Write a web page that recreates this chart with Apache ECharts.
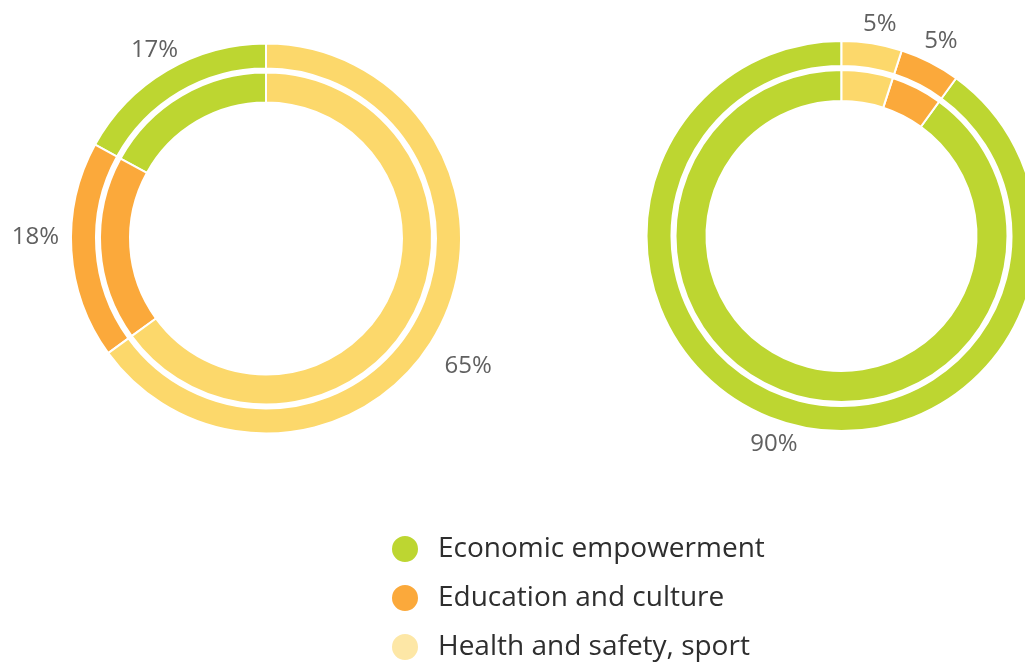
<!DOCTYPE html>
<html>
<head>
<meta charset="utf-8">
<script src="https://cdn.jsdelivr.net/npm/echarts@6/dist/echarts.min.js"></script>
<style>
  html, body { margin: 0; padding: 0; background: #ffffff; }
  #chart { width: 1025px; height: 664px; }
</style>
</head>
<body>
<div id="chart"></div>
<script>
// Funding areas and their shares (%) for the two periods
const categories = ['Economic empowerment', 'Education and culture', 'Health and safety, sport'];
const leftShares = [17, 18, 65];
const rightShares = [90, 5, 5];

const sliceColors = ['#bdd631', '#fba93b', '#fcd86b'];
const legendColors = ['#bdd631', '#fba93b', '#fde7a6'];

// small nudges for a couple of outer labels, per series / data index
const labelNudge = {
  0: { 1: [-12, -15], 2: [7, 28] },
  2: { 2: [4, 4] }
};

function toData(values) {
  return categories.map((name, i) => ({
    name: name,
    value: values[i],
    itemStyle: { color: sliceColors[i] }
  }));
}

function ring(center, radius, values, withLabels, seriesIndex) {
  return {
    type: 'pie',
    center: center,
    radius: radius,
    startAngle: 90,
    clockwise: false,
    avoidLabelOverlap: false,
    silent: true,
    itemStyle: { borderColor: '#ffffff', borderWidth: 2 },
    label: withLabels ? {
      show: true,
      position: 'outside',
      formatter: '{c}%',
      fontFamily: 'Open Sans',
      fontSize: 24,
      color: '#606060',
      distanceToLabelLine: 0
    } : { show: false },
    labelLine: { show: false, length: 24, length2: 0 },
    labelLayout: withLabels ? function (p) {
      const n = (labelNudge[seriesIndex] || {})[p.dataIndex] || [0, 0];
      return { align: 'center', verticalAlign: 'middle', dx: n[0], dy: n[1] };
    } : undefined,
    emphasis: { disabled: true },
    data: toData(values)
  };
}

const chart = echarts.init(document.getElementById('chart'), null, { renderer: 'canvas' });

chart.setOption({
  animation: false,
  backgroundColor: '#ffffff',
  legend: {
    orient: 'vertical',
    left: 390,
    top: 534,
    padding: 0,
    height: 200,
    icon: 'circle',
    itemWidth: 28,
    itemHeight: 28,
    itemGap: 19,
    selectedMode: false,
    textStyle: {
      fontFamily: 'Open Sans',
      fontSize: 28,
      lineHeight: 28,
      color: '#2e2e2e',
      padding: [0, 0, 0, 14]
    },
    data: categories.map((name, i) => ({ name: name, itemStyle: { color: legendColors[i] } }))
  },
  series: [
    ring([266, 238.5], [170, 195], leftShares, true, 0),
    ring([266, 238.5], [136, 166], leftShares, false, 1),
    ring([841.5, 236], [170, 195], rightShares, true, 2),
    ring([841.5, 236], [135, 166], rightShares, false, 3)
  ]
});
</script>
</body>
</html>
